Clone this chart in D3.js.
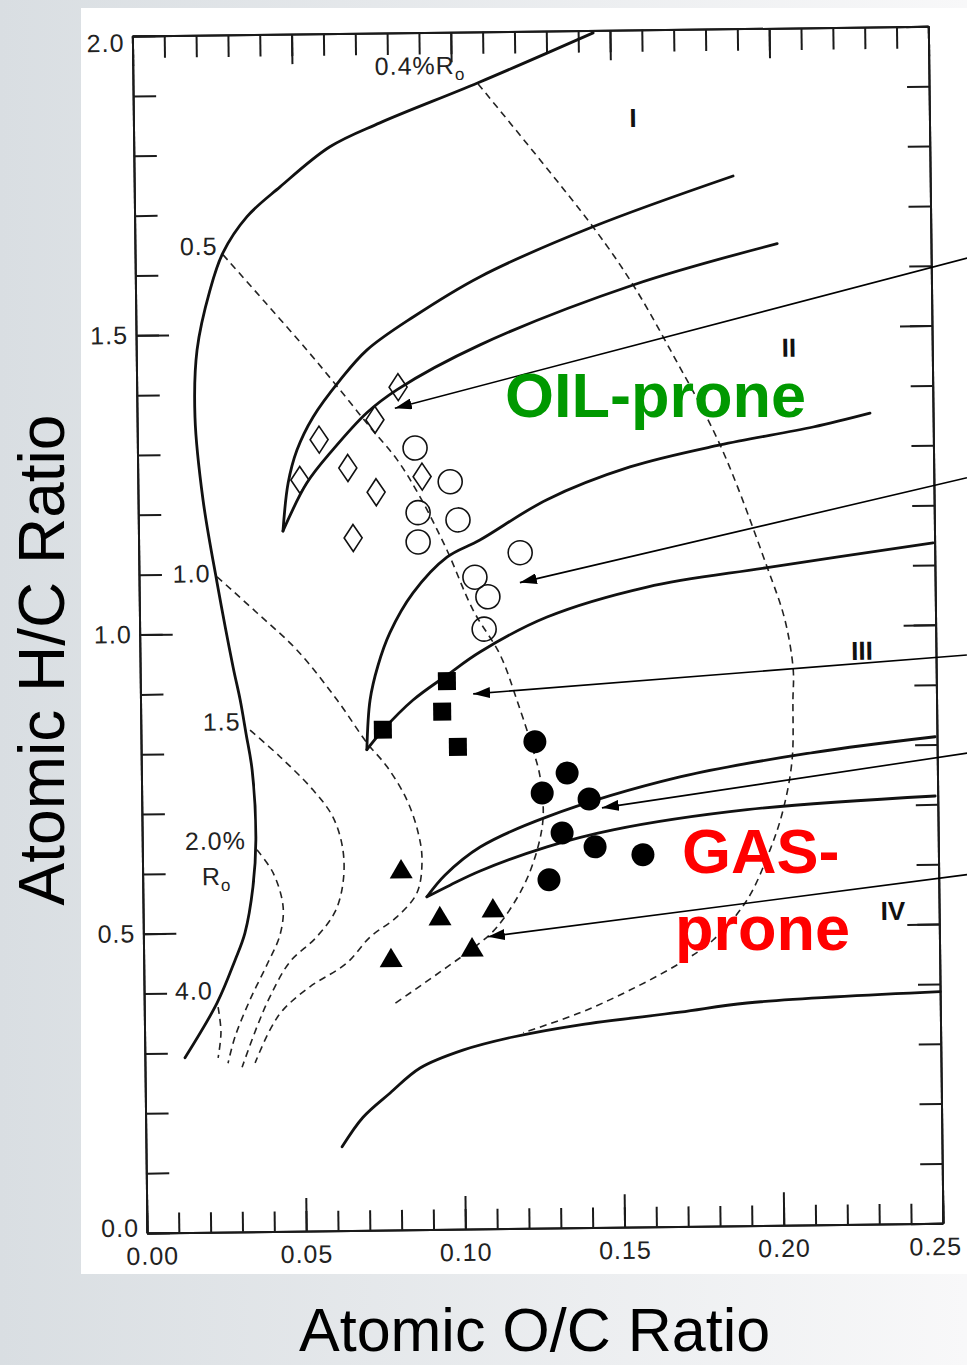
<!DOCTYPE html>
<html>
<head>
<meta charset="utf-8">
<script src="https://cdn.jsdelivr.net/npm/d3@7"></script>
<style>
  html, body { margin: 0; padding: 0; background: #fff; }
  svg { display: block; }
</style>
</head>
<body>
<svg id="chart" width="967" height="1365"></svg>
<script>
// ---- data (O/C, H/C) ----
var outerCurve = [[0.0126,0.292],[0.0229,0.383],[0.0287,0.454],[0.0319,0.499],[0.0346,0.576],[0.0357,0.655],[0.0348,0.771],[0.0330,0.833],[0.0313,0.889],[0.0292,0.944],[0.0245,1.085],[0.0204,1.224],[0.0182,1.362],[0.0191,1.474],[0.0234,1.574],[0.0276,1.636],[0.0353,1.696],[0.0458,1.745],[0.0616,1.811],[0.0774,1.850],[0.1084,1.915],[0.1447,1.996]];
var typeIUpper = [[0.0454,1.170],[0.0472,1.250],[0.0501,1.305],[0.0553,1.360],[0.0639,1.421],[0.0725,1.471],[0.0871,1.525],[0.1083,1.591],[0.1439,1.672],[0.1881,1.754]];
var typeILower = [[0.0454,1.170],[0.0531,1.250],[0.0614,1.305],[0.0722,1.366],[0.0818,1.404],[0.1080,1.477],[0.1563,1.574],[0.2017,1.640]];
var typeIIUpper = [[0.0709,0.803],[0.0721,0.886],[0.0747,0.943],[0.0786,0.998],[0.0860,1.064],[0.0968,1.123],[0.1072,1.151],[0.1284,1.217],[0.1546,1.270],[0.1830,1.305],[0.2123,1.333],[0.2302,1.355]];
var typeIILower = [[0.0709,0.803],[0.0761,0.836],[0.0856,0.885],[0.0964,0.926],[0.1068,0.964],[0.1280,1.021],[0.1595,1.069],[0.1973,1.099],[0.2495,1.137]];
var typeIIIUpper = [[0.0892,0.556],[0.0950,0.592],[0.1061,0.638],[0.1272,0.687],[0.1691,0.751],[0.2110,0.789],[0.2494,0.813]];
var typeIIILower = [[0.0892,0.556],[0.0965,0.575],[0.1060,0.598],[0.1271,0.637],[0.1479,0.664],[0.1901,0.695],[0.2492,0.714]];
var typeIVCurve = [[0.0616,0.140],[0.0683,0.189],[0.0769,0.229],[0.0864,0.270],[0.0999,0.299],[0.1157,0.320],[0.1368,0.339],[0.1682,0.358],[0.1893,0.372],[0.2500,0.387]];

// iso-reflectance lines (%Ro)
var iso04 = [[0.1084,1.913],[0.1439,1.672],[0.1563,1.574],[0.1677,1.465],[0.1830,1.305],[0.1973,1.100],[0.2027,1.011],[0.2051,0.928],[0.2049,0.877],[0.2044,0.777],[0.2014,0.694],[0.1971,0.627],[0.1897,0.544],[0.1789,0.478],[0.1684,0.440],[0.1526,0.396],[0.1368,0.359],[0.1189,0.327]];
var iso05 = [[0.0276,1.633],[0.0406,1.553],[0.0536,1.472],[0.0638,1.405],[0.0731,1.342],[0.0815,1.287],[0.0886,1.224],[0.0968,1.135],[0.1048,1.034],[0.1131,0.959],[0.1182,0.883],[0.1231,0.799],[0.1252,0.754],[0.1260,0.687],[0.1240,0.632],[0.1194,0.570],[0.1111,0.504],[0.1057,0.478],[0.0952,0.438],[0.0781,0.376]];
var iso10 = [[0.0245,1.095],[0.0369,1.034],[0.0493,0.971],[0.0617,0.887],[0.0710,0.814],[0.0772,0.774],[0.0833,0.718],[0.0867,0.663],[0.0878,0.618],[0.0861,0.563],[0.0797,0.523],[0.0712,0.490],[0.0638,0.447],[0.0521,0.408],[0.0436,0.370],[0.0394,0.337],[0.0346,0.282]];
var iso15 = [[0.0343,0.838],[0.0436,0.793],[0.0538,0.737],[0.0600,0.691],[0.0630,0.636],[0.0629,0.581],[0.0603,0.533],[0.0542,0.490],[0.0459,0.450],[0.0395,0.392],[0.0353,0.342],[0.0305,0.275]];
var iso20 = [[0.0360,0.638],[0.0410,0.599],[0.0440,0.542],[0.0429,0.495],[0.0390,0.449],[0.0332,0.387],[0.0284,0.326],[0.0261,0.282]];
var iso40 = [[0.0232,0.376],[0.0240,0.334],[0.0230,0.291]];

// samples
var diamonds = [[0.0821,1.408],[0.0747,1.354],[0.0571,1.322],[0.0509,1.255],[0.0660,1.274],[0.0748,1.233],[0.0893,1.258],[0.0674,1.157]];
var openCircles = [[0.0872,1.306],[0.0981,1.249],[0.0879,1.198],[0.1004,1.185],[0.0878,1.149],[0.1198,1.129],[0.1055,1.089],[0.1095,1.056],[0.1082,1.002]];
var squares = [[0.0963,0.916],[0.0760,0.836],[0.0947,0.865],[0.0995,0.806]];
var filledCircles = [[0.1237,0.813],[0.1337,0.760],[0.1258,0.727],[0.1405,0.716],[0.1319,0.660],[0.1422,0.636],[0.1572,0.622],[0.1276,0.582]];
var triangles = [[0.0812,0.603],[0.0932,0.524],[0.1099,0.536],[0.0777,0.455],[0.1032,0.471]];

// arrows: [tail, head]
var arrows = [
  [[0.2613,1.612],[0.0810,1.373]],
  [[0.2604,1.245],[0.1196,1.079]],
  [[0.2597,0.949],[0.1045,0.894]],
  [[0.2594,0.785],[0.1445,0.701]],
  [[0.2589,0.582],[0.1082,0.488]]
];

// axis ticks
var xLabelTicks = [0, 0.05, 0.10, 0.15, 0.20, 0.25];
var yLabelTicks = [0, 0.5, 1.0, 1.5, 2.0];
var xMinorTicks = d3.range(0, 26).map(function(i) { return i / 100; });
var yMinorTicks = d3.range(0, 21).map(function(i) { return i / 10; });

// labels inside the plot
var roLabels = [
  { text: '0.4%R', sub: 'o', at: [0.0760, 1.930] },
  { text: '0.5', sub: '', at: [0.0141, 1.633] },
  { text: '1.0', sub: '', at: [0.0106, 1.086] },
  { text: '1.5', sub: '', at: [0.0195, 0.838] },
  { text: '2.0%', sub: '', at: [0.0134, 0.639] },
  { text: 'R', sub: 'o', at: [0.0186, 0.580] },
  { text: '4.0', sub: '', at: [0.0097, 0.389] }
];
var typeLabels = [
  { text: 'I', at: [0.1569, 1.838] },
  { text: 'II', at: [0.2050, 1.451] },
  { text: 'III', at: [0.2268, 0.943] },
  { text: 'IV', at: [0.2355, 0.508] }
];

var FONT = '"Liberation Sans", Arial, Helvetica, sans-serif';
var W = 967, H = 1365;
var svg = d3.select('#chart');

var defs = svg.append('defs');
var grad = defs.append('linearGradient').attr('id', 'bg')
  .attr('x1', 0).attr('x2', 1).attr('y1', 0).attr('y2', 0);
grad.append('stop').attr('offset', '0%').attr('stop-color', '#d9dee2');
grad.append('stop').attr('offset', '100%').attr('stop-color', '#f8f8f9');

defs.append('marker')
  .attr('id', 'arrowHead')
  .attr('viewBox', '0 0 17 11')
  .attr('refX', 17).attr('refY', 5.5)
  .attr('markerWidth', 17).attr('markerHeight', 11)
  .attr('markerUnits', 'userSpaceOnUse')
  .attr('orient', 'auto')
  .append('path').attr('d', 'M0,0L17,5.5L0,11Z').attr('fill', '#000');

// slide background + white picture panel
svg.append('rect').attr('width', W).attr('height', H).attr('fill', 'url(#bg)');
svg.append('rect').attr('x', 81).attr('y', 8).attr('width', 886).attr('height', 1266).attr('fill', '#fff');

var x = d3.scaleLinear().domain([0, 0.25]).range([147, 943]);
var y = d3.scaleLinear().domain([0, 2]).range([1233, 36]);

// the scan is slightly tilted
var plot = svg.append('g').attr('transform', 'rotate(-0.7,147,1233)');

function styleAxis(g) {
  g.select('.domain').attr('stroke', '#1a1a1a').attr('stroke-width', 2);
  g.selectAll('.tick line').attr('stroke', '#1a1a1a').attr('stroke-width', 2);
  g.selectAll('.tick text')
    .attr('fill', '#222')
    .style('font-family', FONT)
    .style('font-size', '25px')
    .style('letter-spacing', '1px');
}
function noLabel() { return ''; }

// bottom
plot.append('g').attr('transform', 'translate(0,' + y(0) + ')')
  .call(d3.axisBottom(x).tickValues(xMinorTicks).tickSizeInner(-20).tickSizeOuter(0).tickFormat(noLabel))
  .call(styleAxis);
plot.append('g').attr('transform', 'translate(0,' + y(0) + ')')
  .call(d3.axisBottom(x).tickValues(xLabelTicks).tickSizeInner(-33).tickSizeOuter(0).tickPadding(14).tickFormat(d3.format('.2f')))
  .call(styleAxis)
  .selectAll('.tick text')
  .attr('dx', function(d) { return d === 0 ? 5 : (d === 0.25 ? -8 : 0); });

// top
plot.append('g').attr('transform', 'translate(0,' + y(2) + ')')
  .call(d3.axisTop(x).tickValues(xMinorTicks).tickSizeInner(-22).tickSizeOuter(0).tickFormat(noLabel))
  .call(styleAxis);
plot.append('g').attr('transform', 'translate(0,' + y(2) + ')')
  .call(d3.axisTop(x).tickValues(xLabelTicks).tickSizeInner(-30).tickSizeOuter(0).tickFormat(noLabel))
  .call(styleAxis);

// left
plot.append('g').attr('transform', 'translate(' + x(0) + ',0)')
  .call(d3.axisLeft(y).tickValues(yMinorTicks).tickSizeInner(-23).tickSizeOuter(0).tickFormat(noLabel))
  .call(styleAxis);
plot.append('g').attr('transform', 'translate(' + x(0) + ',0)')
  .call(d3.axisLeft(y).tickValues(yLabelTicks).tickSizeInner(-33).tickSizeOuter(0).tickPadding(8).tickFormat(d3.format('.1f')))
  .call(styleAxis)
  .selectAll('.tick text')
  .attr('y', function(d) { return d === 2 ? 7 : (d === 0 ? -5 : 0); });

// right
plot.append('g').attr('transform', 'translate(' + x(0.25) + ',0)')
  .call(d3.axisRight(y).tickValues(yMinorTicks).tickSizeInner(-22).tickSizeOuter(0).tickFormat(noLabel))
  .call(styleAxis);
plot.append('g').attr('transform', 'translate(' + x(0.25) + ',0)')
  .call(d3.axisRight(y).tickValues(yLabelTicks).tickSizeInner(-32).tickSizeOuter(0).tickFormat(noLabel))
  .call(styleAxis);

var line = d3.line()
  .x(function(d) { return x(d[0]); })
  .y(function(d) { return y(d[1]); })
  .curve(d3.curveCatmullRom.alpha(0.5));

// iso-reflectance dashed lines
[iso04, iso05, iso10, iso15, iso20, iso40].forEach(function(s) {
  plot.append('path').datum(s)
    .attr('d', line)
    .attr('fill', 'none')
    .attr('stroke', '#222')
    .attr('stroke-width', 1.6)
    .attr('stroke-dasharray', '7,5');
});

// kerogen type curves
[outerCurve, typeIUpper, typeILower, typeIIUpper, typeIILower, typeIIIUpper, typeIIILower, typeIVCurve].forEach(function(s) {
  plot.append('path').datum(s)
    .attr('d', line)
    .attr('fill', 'none')
    .attr('stroke', '#111')
    .attr('stroke-width', 2.8)
    .attr('stroke-linecap', 'round');
});

// Ro labels
roLabels.forEach(function(l) {
  var t = plot.append('text')
    .attr('x', x(l.at[0])).attr('y', y(l.at[1]))
    .attr('fill', '#222')
    .style('font-family', FONT).style('font-size', '25px').style('letter-spacing', '1px')
    .text(l.text);
  if (l.sub) {
    t.append('tspan').attr('dy', 6).style('font-size', '17px').text(l.sub);
  }
});

// kerogen type labels
plot.selectAll('.typeLabel').data(typeLabels).enter().append('text')
  .attr('class', 'typeLabel')
  .attr('x', function(d) { return x(d.at[0]); })
  .attr('y', function(d) { return y(d.at[1]); })
  .attr('text-anchor', 'middle')
  .attr('fill', '#111')
  .style('font-family', FONT).style('font-size', '26px').style('font-weight', 'bold')
  .text(function(d) { return d.text; });

// markers
var diamondShape = { draw: function(ctx) { ctx.moveTo(0, -13.5); ctx.lineTo(9, 0); ctx.lineTo(0, 13.5); ctx.lineTo(-9, 0); ctx.closePath(); } };
var triangleShape = { draw: function(ctx) { ctx.moveTo(0, -10); ctx.lineTo(11.5, 9.5); ctx.lineTo(-11.5, 9.5); ctx.closePath(); } };

plot.selectAll('.diamond').data(diamonds).enter().append('path')
  .attr('class', 'diamond')
  .attr('transform', function(d) { return 'translate(' + x(d[0]) + ',' + y(d[1]) + ')'; })
  .attr('d', d3.symbol().type(diamondShape))
  .attr('fill', 'none').attr('stroke', '#111').attr('stroke-width', 1.6);

plot.selectAll('.openCircle').data(openCircles).enter().append('circle')
  .attr('class', 'openCircle')
  .attr('cx', function(d) { return x(d[0]); })
  .attr('cy', function(d) { return y(d[1]); })
  .attr('r', 12)
  .attr('fill', 'none').attr('stroke', '#111').attr('stroke-width', 1.6);

plot.selectAll('.square').data(squares).enter().append('path')
  .attr('class', 'square')
  .attr('transform', function(d) { return 'translate(' + x(d[0]) + ',' + y(d[1]) + ')'; })
  .attr('d', d3.symbol().type(d3.symbolSquare).size(324))
  .attr('fill', '#000');

plot.selectAll('.dot').data(filledCircles).enter().append('circle')
  .attr('class', 'dot')
  .attr('cx', function(d) { return x(d[0]); })
  .attr('cy', function(d) { return y(d[1]); })
  .attr('r', 11.5)
  .attr('fill', '#000');

plot.selectAll('.tri').data(triangles).enter().append('path')
  .attr('class', 'tri')
  .attr('transform', function(d) { return 'translate(' + x(d[0]) + ',' + y(d[1]) + ')'; })
  .attr('d', d3.symbol().type(triangleShape))
  .attr('fill', '#000');

// pointer arrows
plot.selectAll('.arrow').data(arrows).enter().append('line')
  .attr('class', 'arrow')
  .attr('x1', function(d) { return x(d[0][0]); })
  .attr('y1', function(d) { return y(d[0][1]); })
  .attr('x2', function(d) { return x(d[1][0]); })
  .attr('y2', function(d) { return y(d[1][1]); })
  .attr('stroke', '#000').attr('stroke-width', 1.6)
  .attr('marker-end', 'url(#arrowHead)');

// slide annotations
svg.append('text').attr('x', 505).attr('y', 417)
  .attr('fill', '#009900')
  .style('font-family', FONT).style('font-size', '63px').style('font-weight', 'bold')
  .text('OIL-prone');
svg.append('text').attr('x', 682).attr('y', 873)
  .attr('fill', '#ff0000')
  .style('font-family', FONT).style('font-size', '63px').style('font-weight', 'bold')
  .text('GAS-');
svg.append('text').attr('x', 675).attr('y', 950)
  .attr('fill', '#ff0000')
  .style('font-family', FONT).style('font-size', '63px').style('font-weight', 'bold')
  .text('prone');

// axis titles
svg.append('text')
  .attr('transform', 'translate(64,660) rotate(-90)')
  .attr('text-anchor', 'middle')
  .attr('fill', '#000')
  .style('font-family', FONT).style('font-size', '64px')
  .text('Atomic H/C Ratio');
svg.append('text').attr('x', 299).attr('y', 1351)
  .attr('fill', '#000')
  .style('font-family', FONT).style('font-size', '61px')
  .text('Atomic O/C Ratio');
</script>
</body>
</html>
